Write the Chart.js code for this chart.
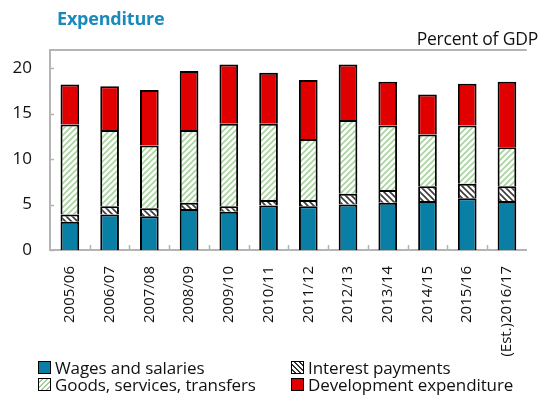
<!DOCTYPE html>
<html>
<head>
<meta charset="utf-8">
<script src="https://cdn.jsdelivr.net/npm/chart.js@4.4.0/dist/chart.umd.min.js"></script>
<style>
  body { margin: 0; background: #fff; font-family: "Open Sans", sans-serif; }
  #wrap { position: relative; width: 541px; height: 401px; }
  #title { position: absolute; left: 57px; top: 6px; font-size: 18px; font-weight: bold; color: #1a8abd; letter-spacing: -0.2px; }
  #unit { position: absolute; right: 3px; top: 26px; font-size: 17.5px; color: #111; letter-spacing: -0.2px; }
  .leg { position: absolute; font-size: 17px; color: #111; display: flex; align-items: center; white-space: nowrap; letter-spacing: -0.1px; }
  .sw { width: 11px; height: 11px; border: 1.5px solid #000; margin-right: 4px; }
</style>
</head>
<body>
<div id="wrap">
  <canvas id="barChart" width="541" height="401"></canvas>
  <div id="title">Expenditure</div>
  <div id="unit">Percent of GDP</div>
  <div class="leg" style="left:38px;top:356px"><span class="sw" style="background:#0a7fa6"></span>Wages and salaries</div>
  <div class="leg" style="left:291px;top:356px"><span class="sw" style="background:repeating-linear-gradient(45deg,#fff 0 2px,#333 2px 3.5px)"></span>Interest payments</div>
  <div class="leg" style="left:38px;top:373px"><span class="sw" style="background:repeating-linear-gradient(-45deg,#fff 0 2px,#9fd096 2px 3.5px)"></span>Goods, services, transfers</div>
  <div class="leg" style="left:291px;top:373px"><span class="sw" style="background:#e00000"></span>Development expenditure</div>
</div>
<script>
// 年度
const years = ['2005/06', '2006/07', '2007/08', '2008/09', '2009/10', '2010/11',
  '2011/12', '2012/13', '2013/14', '2014/15', '2015/16', '(Est.)2016/17'];

// 積み上げの各区分 (GDP比)
const wages = [3.1, 3.9, 3.7, 4.5, 4.2, 4.9, 4.8, 5.0, 5.2, 5.4, 5.7, 5.4];
const interest = [0.8, 0.9, 0.9, 0.7, 0.6, 0.6, 0.7, 1.2, 1.4, 1.6, 1.6, 1.6];
const goods = [9.9, 8.4, 6.9, 8.0, 9.1, 8.4, 6.7, 8.1, 7.1, 5.7, 6.4, 4.3];
const development = [4.4, 4.8, 6.1, 6.5, 6.5, 5.6, 6.5, 6.1, 4.8, 4.4, 4.6, 7.2];

const yTicks = [0, 5, 10, 15, 20];

// 斜線パターン
function hatch(color, dir) {
  const c = document.createElement('canvas');
  c.width = 6; c.height = 6;
  const g = c.getContext('2d');
  g.fillStyle = '#fff';
  g.fillRect(0, 0, 6, 6);
  g.strokeStyle = color;
  g.lineWidth = 1.6;
  g.beginPath();
  if (dir > 0) {
    g.moveTo(-1, 7); g.lineTo(7, -1);
    g.moveTo(-4, 4); g.lineTo(4, -4);
    g.moveTo(2, 10); g.lineTo(10, 2);
  } else {
    g.moveTo(-1, -1); g.lineTo(7, 7);
    g.moveTo(-4, 2); g.lineTo(4, 10);
    g.moveTo(2, -4); g.lineTo(10, 4);
  }
  g.stroke();
  return g.createPattern(c, 'repeat');
}

const ctx = document.getElementById('barChart').getContext('2d');

// 枠線と内向きの目盛り
const framePlugin = {
  id: 'frame',
  afterDraw(chart) {
    const a = chart.chartArea;
    const c = chart.ctx;
    c.save();
    c.strokeStyle = '#b4b4b4';
    c.lineWidth = 2;
    c.beginPath();
    c.moveTo(a.left, a.top);
    c.lineTo(a.right, a.top);
    c.stroke();
    c.lineWidth = 1.5;
    c.beginPath();
    const y = chart.scales.y;
    yTicks.forEach(v => {
      const py = Math.round(y.getPixelForValue(v)) + 0.5;
      c.moveTo(a.left, py); c.lineTo(a.left + 4, py);
    });
    const x = chart.scales.x;
    for (let i = 1; i < years.length; i++) {
      const px = Math.round((x.getPixelForValue(i - 1) + x.getPixelForValue(i)) / 2) + 0.5;
      c.moveTo(px, a.bottom); c.lineTo(px, a.bottom - 5);
    }
    c.stroke();
    c.restore();
  }
};

const barData = {
  labels: years,
  datasets: [
    { label: 'Wages and salaries', data: wages, backgroundColor: '#0a7fa6' },
    { label: 'Interest payments', data: interest, backgroundColor: hatch('#3a3a3a', -1) },
    { label: 'Goods, services, transfers', data: goods, backgroundColor: hatch('#a6d49c', 1) },
    { label: 'Development expenditure', data: development, backgroundColor: '#e00000' }
  ]
};
barData.datasets.forEach(d => {
  d.borderColor = '#000';
  d.borderWidth = 2;
  d.categoryPercentage = 1;
  d.barPercentage = 0.47;
});

const barChart = new Chart(ctx, {
  type: 'bar',
  data: barData,
  plugins: [framePlugin],
  options: {
    responsive: false,
    animation: false,
    layout: { padding: { top: 50, right: 1, left: 0, bottom: 0 } },
    plugins: { legend: { display: false }, tooltip: { enabled: false } },
    scales: {
      x: {
        stacked: true,
        grid: { display: false, drawTicks: false },
        border: { color: '#b4b4b4', width: 2 },
        ticks: {
          color: '#111', padding: 16, maxRotation: 90, minRotation: 90,
          font: { family: 'Open Sans', size: 15 }
        },
        afterFit(s) { s.height = 151; }
      },
      y: {
        stacked: true,
        min: 0,
        max: 22,
        afterBuildTicks(s) { s.ticks = yTicks.map(v => ({ value: v })); },
        grid: { display: false, drawTicks: false },
        border: { color: '#b4b4b4', width: 2 },
        ticks: { color: '#111', padding: 18, font: { family: 'Open Sans', size: 17 } },
        afterFit(s) { s.width = 50; }
      }
    }
  }
});
</script>
</body>
</html>
